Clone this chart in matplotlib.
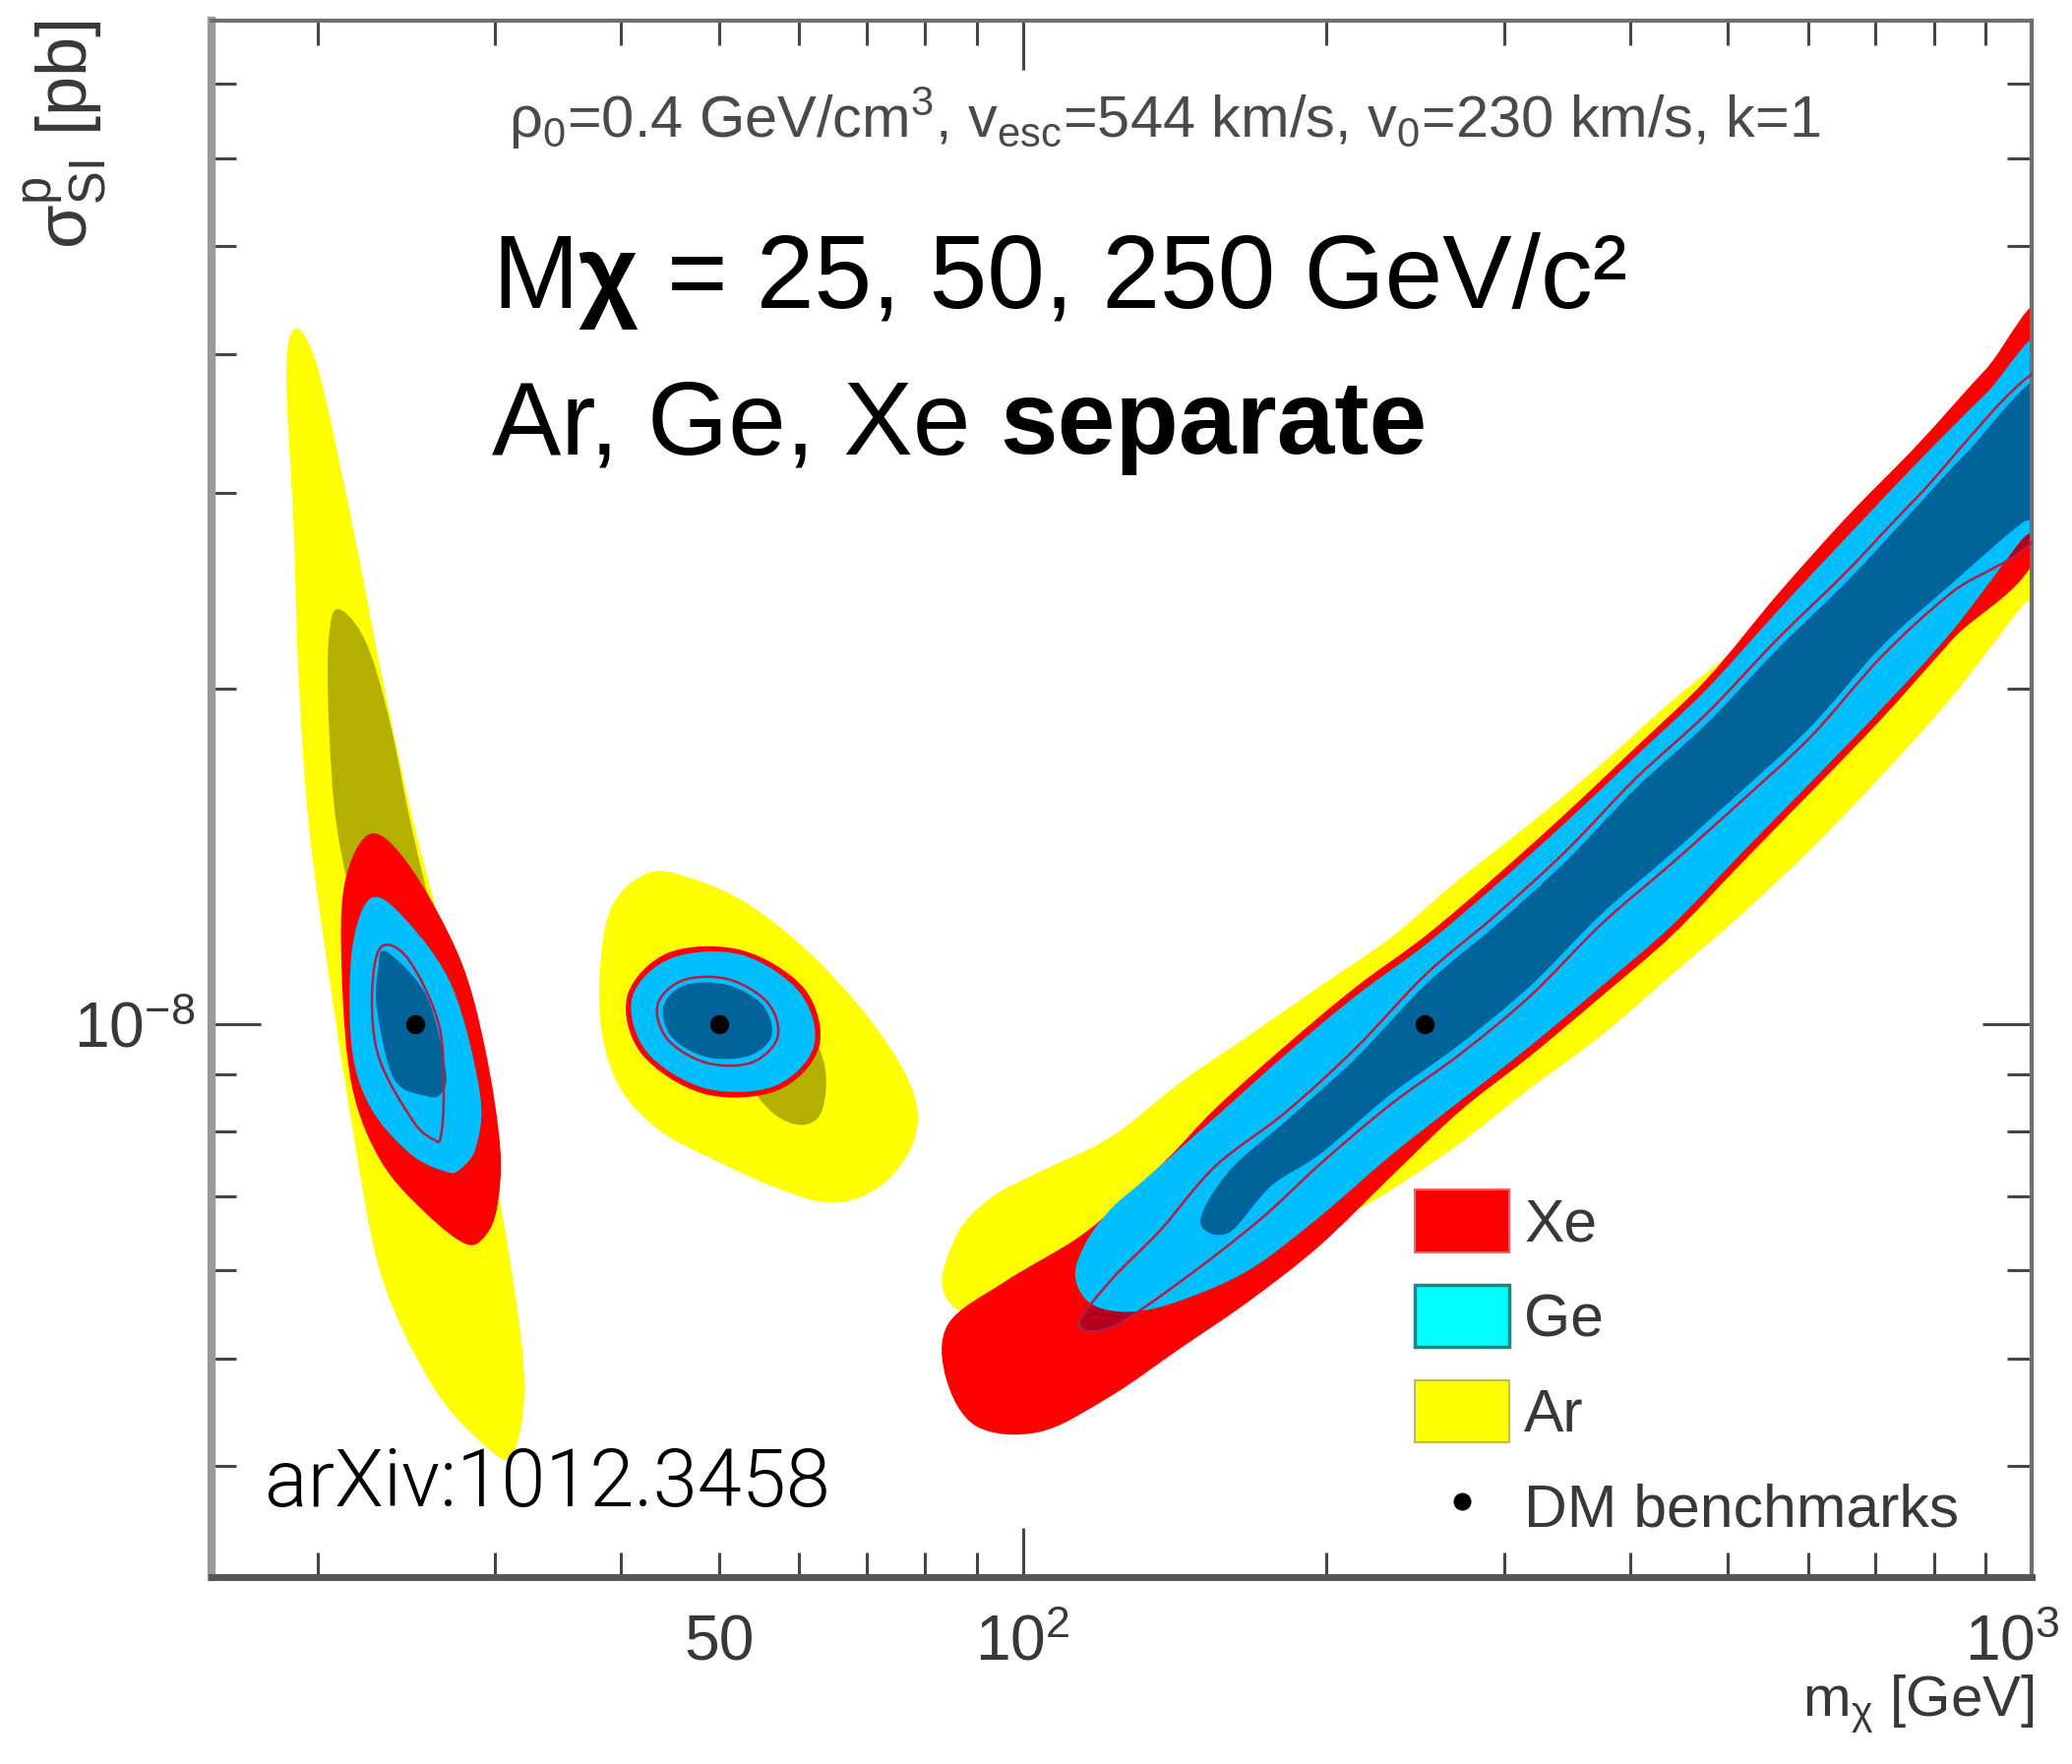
import numpy as np
import matplotlib
matplotlib.use("Agg")
import matplotlib.pyplot as plt
from matplotlib import ticker, font_manager
from matplotlib.path import Path
from matplotlib.patches import PathPatch, Patch
from matplotlib.lines import Line2D
from matplotlib.transforms import ScaledTranslation

# ---------------------------------------------------------------------------
# Data: DM benchmark points and confidence-region outlines.
# Outlines are given as (log10 m_chi [GeV], log10 sigma_SI [pb]) vertices.
# ---------------------------------------------------------------------------
benchmark_mass = [25, 50, 250]
benchmark_sigma = [1e-8, 1e-8, 1e-8]

# --- m_chi = 25 GeV ---
ar_out_m25 = [(1.280, -7.375), (1.302, -7.413), (1.335, -7.549), (1.364, -7.684),
              (1.396, -7.819), (1.435, -7.955), (1.467, -8.090), (1.494, -8.226),
              (1.506, -8.327), (1.494, -8.388), (1.469, -8.381), (1.416, -8.327),
              (1.364, -8.226), (1.335, -8.090), (1.312, -7.955), (1.292, -7.819),
              (1.282, -7.684), (1.277, -7.549), (1.270, -7.413)]
ar_in_m25 = [(1.321, -7.627), (1.348, -7.655), (1.372, -7.726), (1.394, -7.823),
             (1.421, -7.929), (1.440, -8.035), (1.430, -8.124), (1.406, -8.115),
             (1.372, -8.018), (1.343, -7.920), (1.320, -7.823), (1.312, -7.726),
             (1.312, -7.655)]
xe_out_m25 = [(1.354, -7.829), (1.393, -7.859), (1.442, -7.941), (1.467, -8.022),
              (1.482, -8.111), (1.479, -8.165), (1.467, -8.191), (1.448, -8.198),
              (1.409, -8.171), (1.364, -8.124), (1.335, -8.056), (1.325, -7.955),
              (1.328, -7.873)]
xe_in_m25 = [(1.364, -7.931), (1.391, -7.942), (1.421, -8.000), (1.426, -8.062),
             (1.423, -8.102), (1.416, -8.104), (1.396, -8.088), (1.362, -8.031),
             (1.355, -7.973)]
ge_out_m25 = [(1.354, -7.887), (1.389, -7.907), (1.435, -7.968), (1.462, -8.063),
              (1.458, -8.111), (1.442, -8.131), (1.428, -8.133), (1.393, -8.117),
              (1.354, -8.076), (1.335, -8.022), (1.335, -7.935)]
ge_in_m25 = [(1.369, -7.935), (1.409, -7.975), (1.428, -8.042), (1.423, -8.063),
             (1.409, -8.065), (1.377, -8.050), (1.360, -7.988), (1.361, -7.951)]

# --- m_chi = 50 GeV ---
ar_out_m50 = [(1.630, -7.864), (1.674, -7.870), (1.727, -7.892), (1.786, -7.934),
              (1.844, -7.991), (1.883, -8.044), (1.896, -8.084), (1.885, -8.119),
              (1.854, -8.149), (1.810, -8.161), (1.757, -8.148), (1.698, -8.124),
              (1.640, -8.096), (1.601, -8.058), (1.583, -8.009), (1.581, -7.951),
              (1.593, -7.894)]
ar_in_m50 = [(1.727, -7.973), (1.776, -7.991), (1.803, -8.035), (1.801, -8.078),
             (1.781, -8.091), (1.752, -8.080), (1.727, -8.049), (1.718, -8.004)]
xe_out_m50 = [(1.798, -8.021), (1.757, -8.060), (1.684, -8.063), (1.622, -8.027),
              (1.608, -7.975), (1.649, -7.936), (1.722, -7.934), (1.784, -7.969)]
xe_in_m50 = [(1.757, -8.012), (1.731, -8.035), (1.686, -8.035), (1.648, -8.014),
             (1.638, -7.983), (1.663, -7.961), (1.708, -7.960), (1.747, -7.981)]
ge_out_m50 = [(1.793, -8.020), (1.754, -8.056), (1.685, -8.058), (1.627, -8.025),
              (1.613, -7.976), (1.652, -7.941), (1.721, -7.938), (1.779, -7.972)]
ge_in_m50 = [(1.751, -8.011), (1.728, -8.029), (1.687, -8.030), (1.652, -8.012),
             (1.644, -7.984), (1.666, -7.965), (1.707, -7.965), (1.742, -7.983)]

# --- m_chi = 250 GeV ---
ar_out_m250 = [(1.920, -8.235), (1.937, -8.186), (1.971, -8.155), (2.017, -8.133),
               (2.087, -8.102), (2.156, -8.053), (2.225, -8.010), (2.295, -7.966),
               (2.364, -7.923), (2.434, -7.869), (2.503, -7.820), (2.574, -7.766),
               (2.643, -7.710), (2.711, -7.659), (2.789, -7.593), (2.867, -7.522),
               (2.935, -7.469), (3.013, -7.407),
               (3.013, -7.602), (2.990, -7.625), (2.921, -7.706), (2.851, -7.777),
               (2.782, -7.842), (2.712, -7.902), (2.643, -7.956), (2.574, -8.010),
               (2.503, -8.058), (2.434, -8.107), (2.364, -8.150), (2.292, -8.186),
               (2.204, -8.217), (2.107, -8.239), (2.010, -8.257), (1.946, -8.261)]
xe_out_m250 = [(1.926, -8.270), (1.982, -8.232), (2.052, -8.194), (2.097, -8.161),
               (2.146, -8.119), (2.191, -8.076), (2.260, -8.020), (2.330, -7.967),
               (2.399, -7.921), (2.468, -7.868), (2.538, -7.811), (2.608, -7.751),
               (2.678, -7.690), (2.747, -7.615), (2.817, -7.544), (2.886, -7.480),
               (2.954, -7.412), (3.013, -7.358),
               (3.013, -7.562), (2.921, -7.655), (2.851, -7.726), (2.782, -7.791),
               (2.712, -7.856), (2.643, -7.921), (2.574, -7.975), (2.503, -8.029),
               (2.434, -8.078), (2.370, -8.133), (2.295, -8.199), (2.225, -8.249),
               (2.156, -8.292), (2.087, -8.335), (2.017, -8.367), (1.954, -8.362),
               (1.924, -8.319)]
xe_in_m250 = [(2.056, -8.270), (2.088, -8.230), (2.136, -8.186), (2.191, -8.128),
              (2.260, -8.080), (2.330, -8.022), (2.399, -7.956), (2.468, -7.903),
              (2.538, -7.845), (2.608, -7.779), (2.678, -7.721), (2.747, -7.655),
              (2.817, -7.593), (2.886, -7.527), (3.013, -7.412),
              (3.013, -7.550), (2.921, -7.612), (2.851, -7.670), (2.782, -7.741),
              (2.712, -7.800), (2.643, -7.856), (2.574, -7.910), (2.503, -7.975),
              (2.434, -8.027), (2.364, -8.073), (2.295, -8.126), (2.234, -8.177),
              (2.156, -8.232), (2.088, -8.273)]
ge_out_m250 = [(2.052, -8.227), (2.063, -8.196), (2.088, -8.166), (2.121, -8.140),
               (2.191, -8.084), (2.260, -8.028), (2.330, -7.975), (2.399, -7.929),
               (2.468, -7.876), (2.538, -7.819), (2.608, -7.759), (2.678, -7.699),
               (2.747, -7.630), (2.817, -7.562), (2.886, -7.496), (2.954, -7.434),
               (3.013, -7.385),
               (3.013, -7.544), (2.990, -7.565), (2.921, -7.647), (2.851, -7.717),
               (2.782, -7.782), (2.712, -7.847), (2.643, -7.912), (2.574, -7.966),
               (2.503, -8.020), (2.434, -8.069), (2.364, -8.119), (2.295, -8.173),
               (2.225, -8.221), (2.156, -8.249), (2.107, -8.259), (2.068, -8.252)]
ge_in_m250 = [(2.176, -8.178), (2.204, -8.133), (2.260, -8.088), (2.330, -8.031),
              (2.399, -7.965), (2.468, -7.912), (2.538, -7.854), (2.608, -7.788),
              (2.678, -7.730), (2.747, -7.664), (2.817, -7.602), (2.886, -7.535),
              (2.935, -7.487), (3.013, -7.420),
              (3.013, -7.542), (2.990, -7.550), (2.921, -7.604), (2.851, -7.661),
              (2.782, -7.732), (2.712, -7.791), (2.643, -7.847), (2.574, -7.901),
              (2.503, -7.966), (2.434, -8.018), (2.364, -8.064), (2.295, -8.117),
              (2.246, -8.146), (2.204, -8.188)]

legend_labels = ["Xe", "Ge", "Ar", "DM benchmarks"]
x_major = [100, 1000]
x_major_labels = [r"$\mathregular{10^{2}}$", r"$\mathregular{10^{3}}$"]
x_minor = [20, 30, 40, 50, 60, 70, 80, 90, 200, 300, 400, 500, 600, 700, 800, 900]
x_minor_labelled = {50: "50"}

# ---------------------------------------------------------------------------
# Styling
# ---------------------------------------------------------------------------
AR_OUT, AR_IN = "#ffff00", "#b4b000"
XE_OUT, XE_IN, XE_LINE = "#ff0000", "#b4001e", "#b41e46"
GE_OUT, GE_IN = "#00bfff", "#00649b"
ROOT_TEXT = "#383838"

available = {f.name for f in font_manager.fontManager.ttflist}
if "Liberation Sans Narrow" in available:
    ROOT_FONT, k = "Liberation Sans Narrow", 1.0
else:
    ROOT_FONT, k = "Liberation Sans", 0.84
plt.rcParams["font.family"] = [ROOT_FONT, "DejaVu Sans"]


def light_font():
    """A light-weight sans family for the reference tag, if one is installed."""
    for fam in ["Roboto", "Lato", "Open Sans", "Inter"]:
        for f in font_manager.fontManager.ttflist:
            if f.name == fam and str(f.weight) in ("300", "light") and f.style == "normal":
                return [fam, "DejaVu Sans"], 300
    return ["Liberation Sans", "DejaVu Sans"], "normal"


W, H = 2106, 1793
fig = plt.figure(figsize=(W / 100, H / 100), dpi=100)
ax = fig.add_axes([215 / W, 1 - 1603 / H, (2065 - 215) / W, (1603 - 21) / H])
ax.set_xscale("log")
ax.set_yscale("log")


def smooth_region(points):
    """Closed Catmull-Rom curve through the outline vertices (in log space)."""
    p = np.asarray(points, float)
    n = len(p)
    verts, codes = [p[0]], [Path.MOVETO]
    for i in range(n):
        p0, p1, p2, p3 = p[i - 1], p[i], p[(i + 1) % n], p[(i + 2) % n]
        verts += [p1 + (p2 - p0) / 6.0, p2 - (p3 - p1) / 6.0, p2]
        codes += [Path.CURVE4] * 3
    return Path(10.0 ** np.asarray(verts), codes)


def fill(points, color, z):
    ax.add_patch(PathPatch(smooth_region(points), facecolor=color,
                           edgecolor="none", lw=0, zorder=z))


def outline(points, color, z):
    ax.add_patch(PathPatch(smooth_region(points), facecolor="none",
                           edgecolor=color, lw=1.8, zorder=z))


blobs = [
    dict(ar_out=ar_out_m25, ar_in=ar_in_m25, xe_out=xe_out_m25, xe_in=xe_in_m25,
         ge_out=ge_out_m25, ge_in=ge_in_m25),
    dict(ar_out=ar_out_m50, ar_in=ar_in_m50, xe_out=xe_out_m50, xe_in=xe_in_m50,
         ge_out=ge_out_m50, ge_in=ge_in_m50),
    dict(ar_out=ar_out_m250, ar_in=None, xe_out=xe_out_m250, xe_in=xe_in_m250,
         ge_out=ge_out_m250, ge_in=ge_in_m250),
]
for b in blobs:
    fill(b["ar_out"], AR_OUT, 2)
    if b["ar_in"] is not None:
        fill(b["ar_in"], AR_IN, 2.1)
    fill(b["xe_out"], XE_OUT, 2.2)
    fill(b["xe_in"], XE_IN, 2.3)
    fill(b["ge_out"], GE_OUT, 2.4)
    fill(b["ge_in"], GE_IN, 2.5)
    outline(b["xe_in"], XE_LINE, 2.6)

ax.plot(benchmark_mass, benchmark_sigma, "o", color="black", ms=13, zorder=5)

ax.set_xlim(15.7, 1000)
ax.set_ylim(3.18e-9, 7.98e-8)

# axes, ticks and tick labels
ax.xaxis.set_major_locator(ticker.FixedLocator(x_major))
ax.xaxis.set_major_formatter(ticker.FixedFormatter(x_major_labels))
ax.xaxis.set_minor_locator(ticker.FixedLocator(x_minor))
ax.xaxis.set_minor_formatter(ticker.FuncFormatter(
    lambda v, pos: x_minor_labelled.get(int(round(v)), "")))
ax.yaxis.set_major_locator(ticker.LogLocator(base=10, numticks=10))
ax.yaxis.set_major_formatter(ticker.FuncFormatter(
    lambda v, pos: r"$\mathregular{10^{%d}}$" % int(round(np.log10(v)))))
ax.yaxis.set_minor_locator(ticker.LogLocator(base=10, subs=np.arange(2, 10), numticks=30))
ax.yaxis.set_minor_formatter(ticker.NullFormatter())

ax.tick_params(which="both", direction="in", top=True, right=True,
               color="#454545", width=2.2, labelsize=55 * k,
               labelcolor=ROOT_TEXT, pad=12)
ax.tick_params(which="major", length=36)
ax.tick_params(which="minor", length=18)
ax.xaxis.set_tick_params(which="both", pad=27)

# keep the label at the right end of the x axis inside the canvas
last = ax.xaxis.get_major_ticks()[-1].label1
last.set_transform(last.get_transform()
                   + ScaledTranslation(-0.2, 0, fig.dpi_scale_trans))

for side, (lw, col) in {"left": (6, "#9a9a9a"), "bottom": (5, "#555555"),
                        "top": (3, "#6e6e6e"), "right": (3, "#6e6e6e")}.items():
    ax.spines[side].set_linewidth(lw)
    ax.spines[side].set_color(col)

# legend
handles = [Patch(facecolor="#ff0000", edgecolor="#ff6060", lw=1.5),
           Patch(facecolor="#00ffff", edgecolor="#208585", lw=2.5),
           Patch(facecolor="#ffff00", edgecolor="#b8b870", lw=1.5),
           Line2D([], [], ls="none", marker="o", color="black", ms=12)]
leg = ax.legend(handles, legend_labels, loc="upper left",
                bbox_to_anchor=((1438 - 215) / 1850, (1603 - 1209) / 1582),
                frameon=False, fontsize=52 * k, handlelength=1.33 / k,
                handleheight=1.04 / k, handletextpad=0.25, labelspacing=0.52,
                borderpad=0, borderaxespad=0)
for t in leg.get_texts():
    t.set_color(ROOT_TEXT)

# axis titles and the halo-parameter line
fig.text(2068 / W, 1 - 1732 / H, r"m$_{\mathregular{\chi}}$ [GeV]", ha="right",
         va="center", fontsize=50 * k, color=ROOT_TEXT)
fig.text(67 / W, 1 - 20 / H, r"σ$^{\mathregular{p}}_{\mathregular{SI}}$ [pb]",
         rotation=90, ha="center", va="top", fontsize=62 * k, color=ROOT_TEXT)
fig.text(517 / W, 1 - 140 / H,
         r"ρ$_{\mathregular{0}}$=0.4 GeV/cm$^{\mathregular{3}}$, "
         r"v$_{\mathregular{esc}}$=544 km/s, v$_{\mathregular{0}}$=230 km/s, k=1",
         ha="left", va="baseline", fontsize=51 * k, color="#4a4a4a")

# headline text
SANS = ["Liberation Sans", "DejaVu Sans"]
renderer = fig.canvas.get_renderer()


def text_runs(x_px, base_px, runs, size):
    x = x_px
    space = 0.278 * size * 100 / 72
    for s, weight, gap in runs:
        t = fig.text(x / W, 1 - base_px / H, s, ha="left", va="baseline",
                     fontsize=size, fontweight=weight, family=SANS, color="black")
        bb = t.get_window_extent(renderer)
        x = bb.x1 + gap * space


text_runs(500, 313, [("M", "normal", 0), ("χ", "bold", 1),
                     ("= 25, 50, 250 GeV/c²", "normal", 0)], 76)
text_runs(500, 461, [("Ar, Ge, Xe", "normal", 1), ("separate", "bold", 0)], 76)

tag_family, tag_weight = light_font()
fig.text(269 / W, 1 - 1531 / H, "arXiv:1012.3458", ha="left", va="baseline",
         fontsize=58.5 if tag_weight == 300 else 55, family=tag_family,
         fontweight=tag_weight, color="black")

fig.savefig("out.png", dpi=100)
